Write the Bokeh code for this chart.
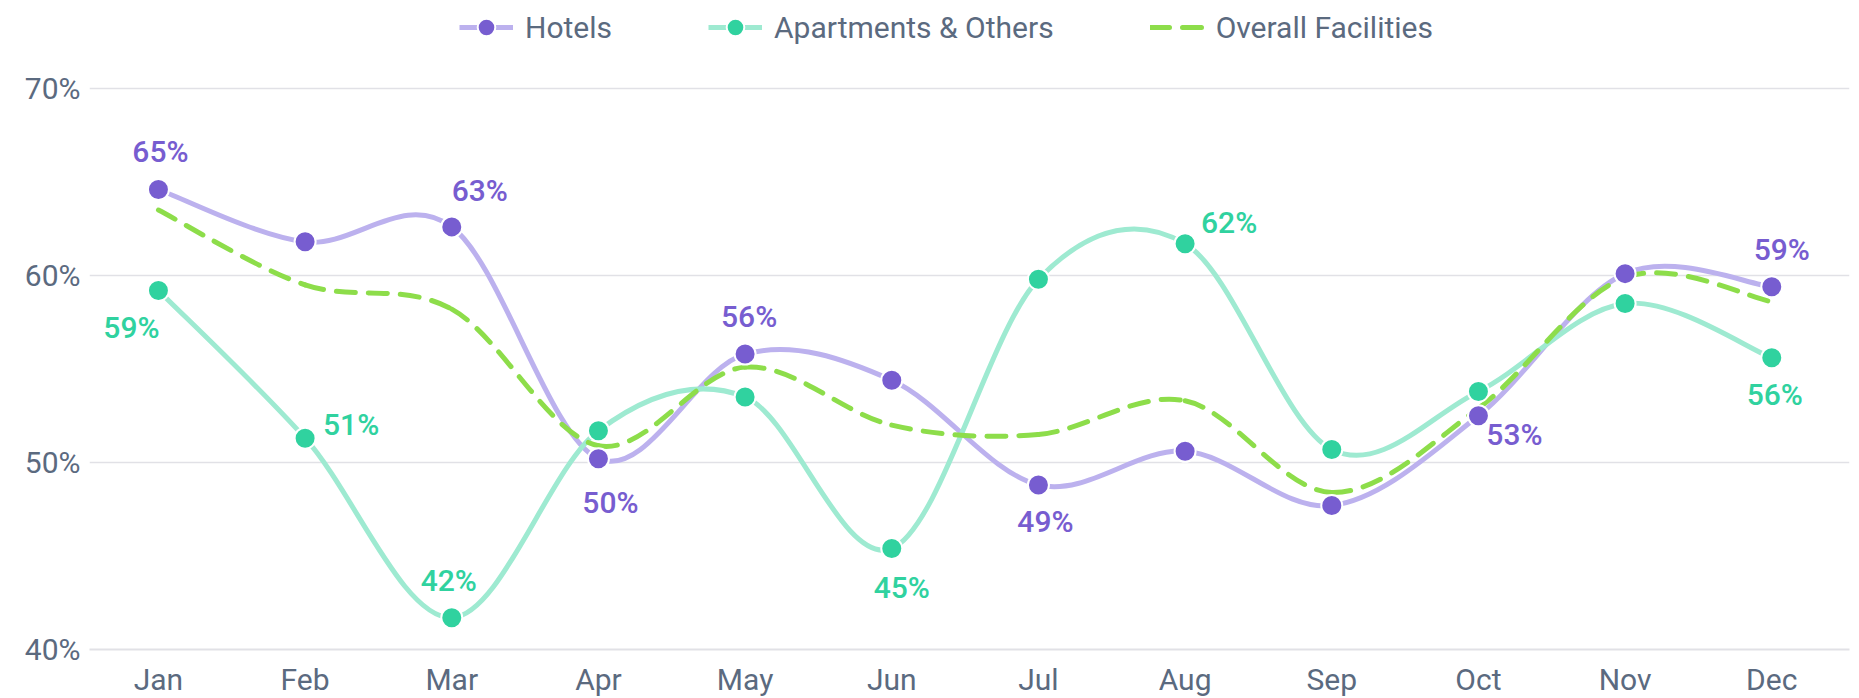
import numpy as np
from bokeh.plotting import figure
from bokeh.models import (Range1d, FixedTicker, PrintfTickFormatter, Legend,
                          LegendItem, ColumnDataSource)
from bokeh.embed import file_html
from bokeh.resources import INLINE
from bokeh.core.properties import value

# ---------------- data ----------------
months = ["Jan", "Feb", "Mar", "Apr", "May", "Jun",
          "Jul", "Aug", "Sep", "Oct", "Nov", "Dec"]
hotels = [64.6, 61.8, 62.6, 50.2, 55.8, 54.4, 48.8, 50.6, 47.7, 52.5, 60.1, 59.4]
apartments = [59.2, 51.3, 41.7, 51.7, 53.5, 45.4, 59.8, 61.7, 50.7, 53.8, 58.5, 55.6]
overall = [63.5, 59.5, 58.2, 50.9, 55.1, 52.0, 51.5, 53.3, 48.4, 52.9, 59.9, 58.6]
y_ticks = [40, 50, 60, 70]
series_names = ["Hotels", "Apartments & Others", "Overall Facilities"]

# which points carry a data label
hotels_labelled = [0, 2, 3, 4, 6, 9, 11]
apart_labelled = [0, 1, 2, 5, 7, 11]

# ---------------- style ----------------
HOT = "#775DD0"
HOT_LINE = "#bcb1ee"
APT = "#30d29f"
APT_LINE = "#9eead1"
OVR = "#8ddd4a"
AXIS_TXT = "#5b6a7f"
GRID = "#e1e1e6"
FONT = "Roboto"

# label offsets (screen px, +y = down) for labelled points
hot_off = {0: (2, -38), 2: (28, -36), 3: (12, 44), 4: (4, -38),
           6: (7, 37), 9: (36, 19), 11: (10, -37)}
apt_off = {0: (-27, 37), 1: (46, -14), 2: (-3, -37), 5: (10, 39),
           7: (44, -21), 11: (3, 37)}

x = np.arange(len(months), dtype=float)


def bezier_source(vals):
    v = np.asarray(vals, dtype=float)
    n = len(v)
    xp = np.concatenate([[x[0]], x, [x[-1]]])
    vp = np.concatenate([[v[0]], v, [v[-1]]])
    x0, y0, x1, y1, cx0, cy0, cx1, cy1 = ([] for _ in range(8))
    for i in range(n - 1):
        p_prev, p0, p1, p_next = i, i + 1, i + 2, i + 3
        x0.append(xp[p0]); y0.append(vp[p0])
        x1.append(xp[p1]); y1.append(vp[p1])
        cx0.append(xp[p0] + (xp[p1] - xp[p_prev]) / 6.0)
        cy0.append(vp[p0] + (vp[p1] - vp[p_prev]) / 6.0)
        cx1.append(xp[p1] - (xp[p_next] - xp[p0]) / 6.0)
        cy1.append(vp[p1] - (vp[p_next] - vp[p0]) / 6.0)
    return ColumnDataSource(dict(x0=x0, y0=y0, x1=x1, y1=y1,
                                 cx0=cx0, cy0=cy0, cx1=cx1, cy1=cy1))


FRAME_H = 649
PX_PER_UNIT = 18.7
p = figure(frame_width=1760, frame_height=FRAME_H, output_backend="svg",
           toolbar_location=None,
           x_range=Range1d(-0.47, 11.53),
           y_range=Range1d(40, 40 + FRAME_H / PX_PER_UNIT),
           min_border_left=89, min_border_right=2, min_border_top=0,
           min_border_bottom=40)
p.outline_line_color = None
p.background_fill_color = "white"
p.border_fill_color = "white"

# axes
p.xaxis.ticker = FixedTicker(ticks=list(range(len(months))))
p.xaxis.major_label_overrides = {i: m for i, m in enumerate(months)}
p.yaxis.ticker = FixedTicker(ticks=y_ticks)
p.yaxis.formatter = PrintfTickFormatter(format="%d%%")
for ax in (p.xaxis[0], p.yaxis[0]):
    ax.major_tick_line_color = None
    ax.minor_tick_line_color = None
    ax.major_label_text_font = FONT
    ax.major_label_text_font_size = "30px"
    ax.major_label_text_color = AXIS_TXT
p.yaxis.axis_line_color = None
p.yaxis.major_label_standoff = 3
p.yaxis.major_label_text_baseline = "alphabetic"
p.xaxis.axis_line_color = GRID
p.xaxis.axis_line_width = 2
p.xaxis.major_label_standoff = 6
p.xgrid.grid_line_color = None
p.ygrid.ticker = FixedTicker(ticks=y_ticks)
p.ygrid.grid_line_color = GRID
p.ygrid.grid_line_width = 1.5

# smooth lines
hot_line = p.bezier(x0="x0", y0="y0", x1="x1", y1="y1", cx0="cx0", cy0="cy0",
                    cx1="cx1", cy1="cy1", source=bezier_source(hotels),
                    line_color=HOT_LINE, line_width=5)
apt_line = p.bezier(x0="x0", y0="y0", x1="x1", y1="y1", cx0="cx0", cy0="cy0",
                    cx1="cx1", cy1="cy1", source=bezier_source(apartments),
                    line_color=APT_LINE, line_width=5)
ovr_line = p.bezier(x0="x0", y0="y0", x1="x1", y1="y1", cx0="cx0", cy0="cy0",
                    cx1="cx1", cy1="cy1", source=bezier_source(overall),
                    line_color=OVR, line_width=5, line_dash="19 13",
                    line_cap="round")

# markers
hot_pts = p.scatter(x=x, y=hotels, size=21, fill_color=HOT,
                    line_color="white", line_width=2)
apt_pts = p.scatter(x=x, y=apartments, size=21, fill_color=APT,
                    line_color="white", line_width=2)


# data labels
def label_source(vals, idx, off):
    return ColumnDataSource(dict(
        x=[x[i] for i in idx], y=[vals[i] for i in idx],
        t=[f"{int(vals[i] + 0.5)}%" for i in idx],
        dx=[off[i][0] for i in idx], dy=[off[i][1] for i in idx]))


for vals, idx, off, col in ((hotels, hotels_labelled, hot_off, HOT),
                            (apartments, apart_labelled, apt_off, APT)):
    p.text(x="x", y="y", text="t", x_offset="dx", y_offset="dy",
           source=label_source(vals, idx, off), text_color=col,
           text_font=value("Roboto Medium"), text_font_size="30px",
           text_align="center", text_baseline="middle")

legend = Legend(items=[
    LegendItem(label=series_names[0], renderers=[hot_line, hot_pts]),
    LegendItem(label=series_names[1], renderers=[apt_line, apt_pts]),
    LegendItem(label=series_names[2], renderers=[ovr_line]),
], orientation="horizontal", location=(370, 600))
legend.label_text_font = FONT
legend.label_text_font_size = "30px"
legend.label_text_color = AXIS_TXT
legend.glyph_width = 54
legend.glyph_height = 44
legend.label_standoff = 12
legend.spacing = 96
legend.border_line_color = None
legend.background_fill_alpha = 0
legend.padding = 2
p.add_layout(legend, "center")

open("out.html", "w").write(file_html(p, INLINE))
